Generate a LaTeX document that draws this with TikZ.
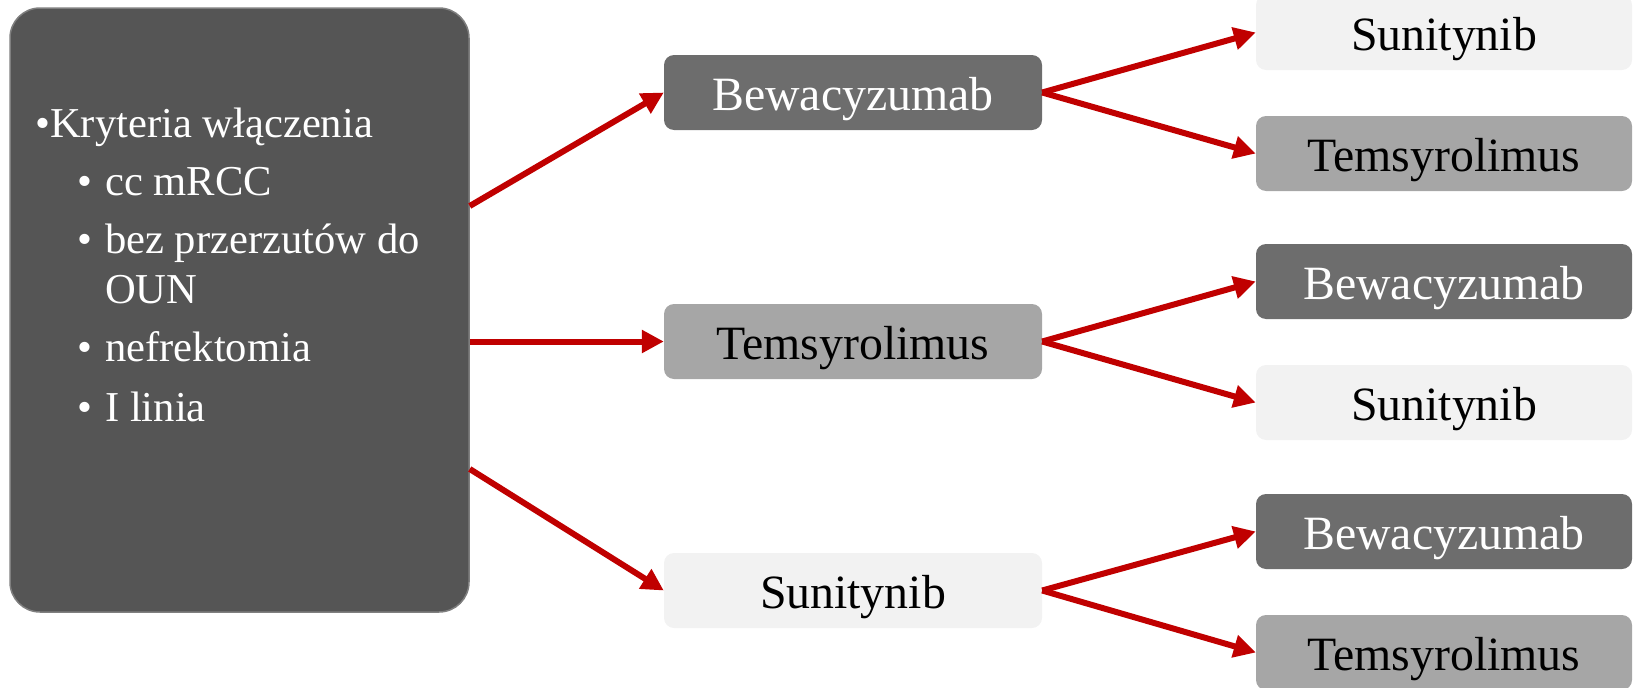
\documentclass[tikz,border=0pt]{standalone}
\usepackage{fontspec}
\setmainfont{Liberation Serif}
\usetikzlibrary{arrows.meta}
\definecolor{leftfill}{HTML}{555555}
\definecolor{leftdraw}{HTML}{7F7F7F}
\definecolor{darkbox}{HTML}{6D6D6D}
\definecolor{midbox}{HTML}{A6A6A6}
\definecolor{lightbox}{HTML}{F2F2F2}
\definecolor{arrowred}{HTML}{C00000}
\begin{document}
\begin{tikzpicture}[x=1pt,y=-1pt,
 drug/.style={rectangle, rounded corners=10pt, minimum width=378pt, minimum height=75pt, inner sep=0pt, text height=36pt, text depth=0pt, font=\fontsize{47.8}{56}\selectfont},
 rdrug/.style={drug, minimum width=376pt},
 bevbox/.style={fill=darkbox, text=white},
 temsbox/.style={fill=midbox, text=black},
 sunbox/.style={fill=lightbox, text=black},
 crit/.style={anchor=base west, inner sep=0pt, text=white, font=\fontsize{42.6}{50}\selectfont},
 link/.style={draw=arrowred, line width=6pt, -{Triangle[length=22pt,width=22pt]}},
]
\useasboundingbox (0,0) rectangle (1634,688);
% left criteria box
\node[draw=leftdraw, line width=1.5pt, fill=leftfill, rounded corners=30pt, minimum width=459pt, minimum height=604pt, inner sep=0pt] (L) at (239.5,310) {};
\node[crit] (c0) at (35,137) {•Kryteria włączenia};
\node[crit] (d1) at (77,195) {•};
\node[crit] (c1) at (105,195) {cc mRCC};
\node[crit] (d2) at (77,253.5) {•};
\node[crit] (c2) at (105,253.5) {bez przerzutów do};
\node[crit] (c2b) at (105,303) {OUN};
\node[crit] (d3) at (77,361) {•};
\node[crit] (c3) at (105,361) {nefrektomia};
\node[crit] (d4) at (77,421) {•};
\node[crit] (c4) at (105,421) {I linia};
% middle column
\node[drug, bevbox] (B) at (853,92.5) {Bewacyzumab};
\node[drug, temsbox] (T) at (853,341.5) {Temsyrolimus};
\node[drug, sunbox] (S) at (853,590.5) {Sunitynib};
% right column
\node[rdrug, sunbox] (S1) at (1444,32.5) {Sunitynib};
\node[rdrug, temsbox] (T1) at (1444,153.5) {Temsyrolimus};
\node[rdrug, bevbox] (B2) at (1444,281.5) {Bewacyzumab};
\node[rdrug, sunbox] (S2) at (1444,402.5) {Sunitynib};
\node[rdrug, bevbox] (B3) at (1444,531.5) {Bewacyzumab};
\node[rdrug, temsbox] (T3) at (1444,652.5) {Temsyrolimus};
% connectors
\draw[link] ([yshift=104pt]L.east) -- (B.west);
\draw[link] (L.east |- T.west) -- (T.west);
\draw[link] ([yshift=-159pt]L.east) -- (S.west);
\draw[link] (B.east) -- (S1.west);
\draw[link] (B.east) -- (T1.west);
\draw[link] (T.east) -- (B2.west);
\draw[link] (T.east) -- (S2.west);
\draw[link] (S.east) -- (B3.west);
\draw[link] (S.east) -- (T3.west);
\end{tikzpicture}
\end{document}
